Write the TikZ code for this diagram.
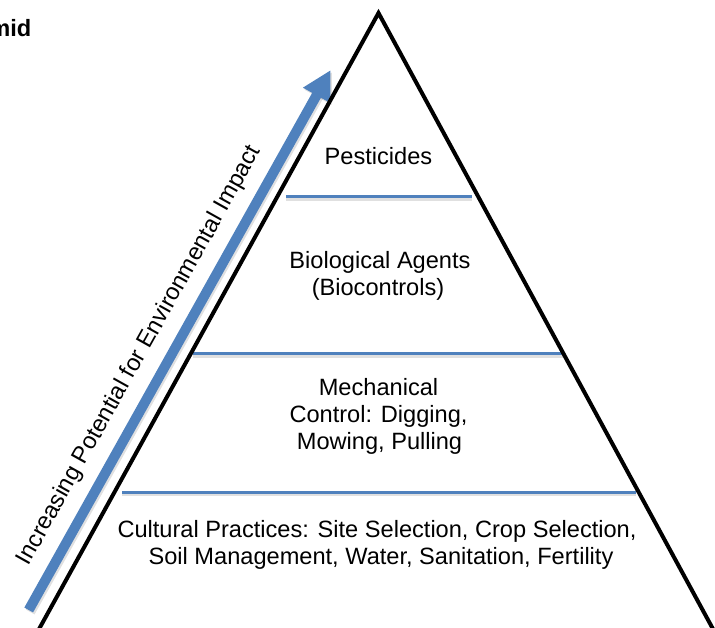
\documentclass[tikz,border=0pt]{standalone}
\usepackage{fontspec}
\setmainfont{Liberation Sans}
\usetikzlibrary{arrows.meta,calc}
\definecolor{levelblue}{HTML}{4F81BD}
\begin{document}
\begin{tikzpicture}[x=1pt,y=-1pt,
  txt/.style={font=\fontsize{23.6}{27.5}\selectfont, inner sep=0pt, anchor=base},
  divider/.style={draw=levelblue, line width=3pt},
  softshadow/.style={draw=black, opacity=0.12},
  pyramidedge/.style={draw=black, line width=4pt, line join=miter, miter limit=20},
  risearrow/.style={draw=levelblue, line width=10pt, -{Triangle[length=29pt,width=29pt]}},
]
\useasboundingbox (0,0) rectangle (715,628);
\clip (0,0) rectangle (715,628);

% heading, partly off the left edge
\node[txt, font=\fontsize{23.6}{27.5}\selectfont\bfseries, anchor=base east] (title) at (31.5,36.5) {mid};

% rising arrow beside the pyramid
\coordinate (tail) at (28.7,610);
\coordinate (tip) at (330.7,70);
\draw[risearrow, softshadow, line width=10pt] ([shift={(1.5,2)}]tail) -- ([shift={(1.5,2)}]tip);
\draw[risearrow] (tail) -- (tip);
\node[txt, anchor=center, rotate=60.8] (impact) at (139.5,355.5)
  {Increasing Potential for Environmental Impact};

% dividers between the levels
\coordinate (d1l) at (286,197); \coordinate (d1r) at (472,197);
\coordinate (d2l) at (193,354); \coordinate (d2r) at (563,354);
\coordinate (d3l) at (122,492); \coordinate (d3r) at (636,492);
\foreach \a/\b in {d1l/d1r,d2l/d2r,d3l/d3r}{
  \draw[softshadow, line width=3pt] ([yshift=-2.5pt]\a) -- ([yshift=-2.5pt]\b);
  \draw[divider] (\a) -- (\b);
}

% pyramid outline
\coordinate (apex) at (378.5,13);
\coordinate (baseL) at (22,660);
\coordinate (baseR) at (729.8,660);
\draw[pyramidedge] (baseL) -- (apex) -- (baseR);

% level texts
\node[txt] (pest) at (378.5,165) {Pesticides};
\node[txt] (bio1) at (380,268.5) {Biological Agents};
\node[txt] (bio2) at (378,295.5) {(Biocontrols)};
\node[txt] (mech1) at (378.5,395) {Mechanical};
\node[txt] (mech2) at (378.5,422) {Control: Digging,};
\node[txt] (mech3) at (379.5,449) {Mowing, Pulling};
\node[txt] (cult1) at (377,537) {Cultural Practices: Site Selection, Crop Selection,};
\node[txt] (cult2) at (381,564) {Soil Management, Water, Sanitation, Fertility};
\end{tikzpicture}
\end{document}
